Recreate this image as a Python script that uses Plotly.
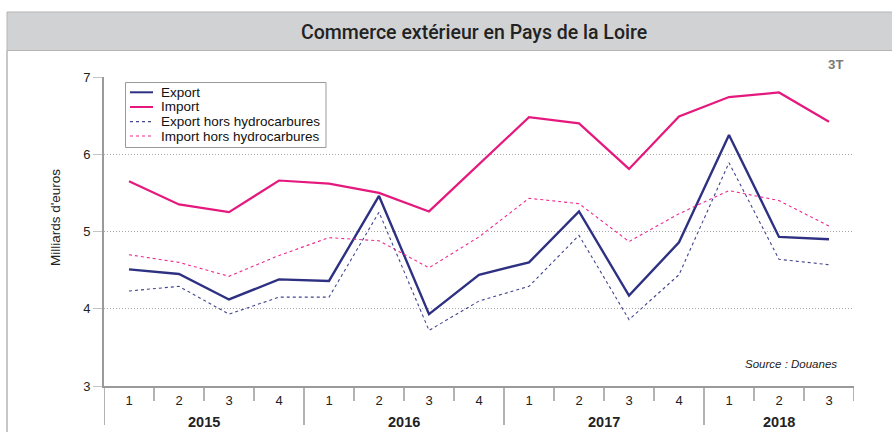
import plotly.graph_objects as go

years = ["2015"] * 4 + ["2016"] * 4 + ["2017"] * 4 + ["2018"] * 3
quarters = ["1", "2", "3", "4"] * 3 + ["1", "2", "3"]

export = [4.51, 4.45, 4.12, 4.38, 4.36, 5.46, 3.93, 4.44, 4.60, 5.26, 4.17, 4.86, 6.25, 4.93, 4.90]
import_ = [5.65, 5.35, 5.25, 5.66, 5.62, 5.50, 5.26, 5.87, 6.48, 6.40, 5.81, 6.49, 6.74, 6.80, 6.42]
export_hh = [4.23, 4.29, 3.93, 4.15, 4.15, 5.25, 3.72, 4.10, 4.29, 4.95, 3.86, 4.44, 5.89, 4.64, 4.57]
import_hh = [4.70, 4.60, 4.42, 4.69, 4.92, 4.88, 4.53, 4.93, 5.43, 5.36, 4.87, 5.23, 5.53, 5.40, 5.07]

series_names = ["Export", "Import", "Export hors hydrocarbures", "Import hors hydrocarbures"]
y_ticks = [3, 4, 5, 6, 7]

NAVY = "#2e3182"
PINK = "#e5197d"
GREY = "#9a9a9a"
FONT = "Liberation Sans, Arial, sans-serif"

x_keys = ["%s T%s" % (y, q) for y, q in zip(years, quarters)]

styles = [
    dict(color=NAVY, width=2.4),
    dict(color=PINK, width=2.2),
    dict(color="#42458f", width=1.1, dash="3px,3px"),
    dict(color="#ee2a8f", width=1.1, dash="3px,3px"),
]

fig = go.Figure()
for name, vals, st in zip(series_names, [export, import_, export_hh, import_hh], styles):
    fig.add_trace(go.Scatter(x=x_keys, y=vals, mode="lines", name=name, line=st,
                             showlegend=False))

# plot area in px: x 104..854, y 77..386
L, R, T, B = 104, 854, 77, 386
W, H = R - L, B - T


def px_x(p):
    return (p - L) / W


def px_y(p):
    return (B - p) / H


fig.update_layout(
    width=892, height=432,
    margin=dict(l=L, r=892 - R, t=T, b=432 - B),
    paper_bgcolor="white", plot_bgcolor="white",
    font=dict(family=FONT, size=13, color="#222"),
    xaxis=dict(type="category", categoryorder="array", categoryarray=x_keys,
               range=[-0.5, len(x_keys) - 0.5],
               tickmode="array", tickvals=x_keys, ticktext=quarters,
               showline=True, linecolor=GREY, linewidth=1.5, ticks="",
               showgrid=False, tickfont=dict(size=13, color="#222"), ticklabelstandoff=2),
    yaxis=dict(range=[3, 7], tickvals=y_ticks, showline=True, linecolor=GREY,
               linewidth=2, ticks="outside", ticklen=9, tickcolor="#c4c4c4", tickwidth=1,
               showgrid=True, gridcolor="#a8a8a8", griddash="1px,2px", gridwidth=1,
               zeroline=False, tickfont=dict(size=13, color="#222")),
)

# frame and title bar
fig.add_shape(type="rect", xref="paper", yref="paper",
              x0=px_x(7), x1=px_x(900), y0=px_y(50.5), y1=px_y(12),
              fillcolor="#d1d2d4", line=dict(color="#b5b5b5", width=1), layer="below")
fig.add_shape(type="line", xref="paper", yref="paper",
              x0=px_x(7), x1=px_x(7), y0=px_y(440), y1=px_y(50.5),
              line=dict(color="#b5b5b5", width=1.5))

# x-axis boundary ticks and year dividers
starts = [i for i in range(len(years)) if i == 0 or years[i] != years[i - 1]]
for i in range(len(x_keys) + 1):
    long = i in starts
    fig.add_shape(type="line", xref="x", yref="paper", x0=i - 0.5, x1=i - 0.5,
                  y0=0, y1=px_y(425 if long else 401),
                  line=dict(color=GREY, width=1.5))
# year labels
for k, s in enumerate(starts):
    e = starts[k + 1] - 1 if k + 1 < len(starts) else len(years) - 1
    fig.add_annotation(text="<b>%s</b>" % years[s], xref="x", yref="paper",
                       x=(s + e) / 2, y=px_y(422), xanchor="center", yanchor="middle",
                       showarrow=False, font=dict(size=14.5, color="#222"))

# manual legend
fig.add_shape(type="rect", xref="paper", yref="paper",
              x0=px_x(125.5), x1=px_x(326), y0=px_y(147.5), y1=px_y(82.5),
              fillcolor="white", line=dict(color="#999", width=1))
rows = [92.3, 107, 121.7, 136]
for name, st, ry in zip(series_names, styles, rows):
    fig.add_shape(type="line", xref="paper", yref="paper",
                  x0=px_x(130), x1=px_x(153), y0=px_y(ry), y1=px_y(ry),
                  line=dict(color=st["color"], width=min(st["width"], 2) if "dash" not in st else 1.2,
                            dash=st.get("dash", "solid")))
    fig.add_annotation(text=name, xref="paper", yref="paper", x=px_x(159), y=px_y(ry),
                       xanchor="left", yanchor="middle", showarrow=False,
                       font=dict(size=13.5, color="#111"))

fig.add_annotation(text="Commerce extérieur en Pays de la Loire", xref="paper", yref="paper",
                   x=px_x(474), y=px_y(32), xanchor="center", yanchor="middle", showarrow=False,
                   font=dict(family="Roboto, sans-serif", weight=500, size=19.5, color="#222"))
fig.add_annotation(text="<b>3T</b>", xref="paper", yref="paper",
                   x=px_x(836), y=px_y(64.5), xanchor="center", yanchor="middle", showarrow=False,
                   font=dict(family="Roboto, sans-serif", size=13, color="#7a7a7a"))
fig.add_annotation(text="<i>Source : Douanes</i>", xref="paper", yref="paper",
                   x=px_x(839), y=px_y(364), xanchor="right", yanchor="middle", showarrow=False,
                   font=dict(size=11.5, color="#222"))
fig.add_annotation(text="Milliards d'euros", xref="paper", yref="paper",
                   x=px_x(55), y=px_y(218), xanchor="center", yanchor="middle",
                   textangle=-90, showarrow=False,
                   font=dict(size=13.5, color="#222"))

fig.write_html("out.html", config={"displayModeBar": False},
               post_script="document.body.style.margin='0';")
